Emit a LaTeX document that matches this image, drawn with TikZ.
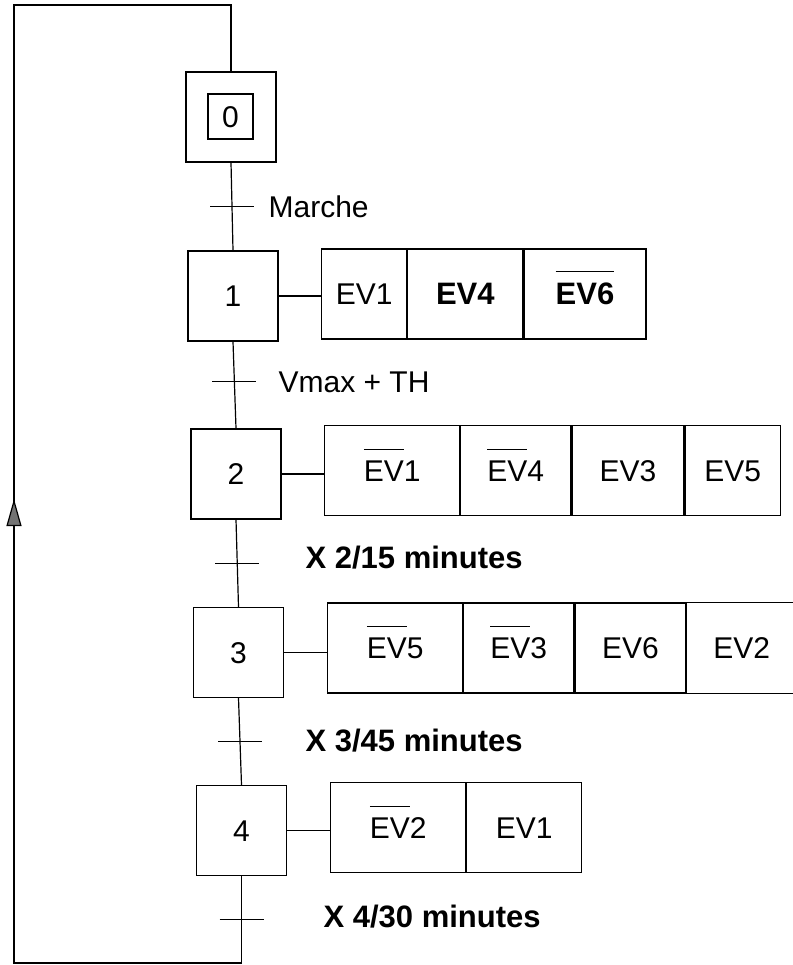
\documentclass[tikz,border=0pt]{standalone}
\usepackage{fontspec}
\setmainfont{Liberation Sans}
\usetikzlibrary{arrows.meta,calc}
\newsavebox\ovlbox
\newcommand\ovl[1]{\sbox\ovlbox{#1}\rlap{\rule[1.05em]{\wd\ovlbox}{1.1pt}}\usebox\ovlbox\relax}
\begin{document}
\begin{tikzpicture}[x=1pt,y=-1pt,line width=1.2pt,
  every node/.style={font=\fontsize{30}{36}\selectfont},
  stepbox/.style={draw,minimum width=90pt,minimum height=90pt,inner sep=0pt,text height=21.5pt,text depth=0pt},
  cell/.style={draw,minimum height=90pt,inner sep=0pt,text height=21.5pt,text depth=0pt,anchor=west},
  bcell/.style={cell,font=\fontsize{31}{36}\selectfont\bfseries},
  lbl/.style={anchor=west,inner sep=0pt},
  blbl/.style={lbl,font=\fontsize{31}{36}\selectfont\bfseries}]
\useasboundingbox (0,0) rectangle (792,965);
% steps
\node[stepbox] (S0) at (231,117) {};
\node[draw,minimum width=45pt,minimum height=45pt,inner sep=0pt,text height=21.5pt,text depth=0pt] (S0i) at (230.5,116.5) {0};
\node[stepbox] (S1) at (233,296) {1};
\node[stepbox] (S2) at (236,474) {2};
\node[stepbox] (S3) at (238.5,652.5) {3};
\node[stepbox] (S4) at (241.5,830.5) {4};
% actions step 1
\node[cell,minimum width=85pt] (A1a) at (321,294) {EV1};
\node[bcell,minimum width=115pt] (A1b) at (A1a.east) {EV4};
\node[bcell,minimum width=122pt] (A1c) at (A1b.east) {\ovl{EV6}};
% actions step 2
\node[cell,minimum width=135pt] (A2a) at (324,470.5) {\ovl{EV}1};
\node[cell,minimum width=110pt] (A2b) at (A2a.east) {\ovl{EV}4};
\node[cell,minimum width=112pt] (A2c) at (A2b.east) {EV3};
\node[cell,minimum width=95pt] (A2d) at (A2c.east) {EV5};
% actions step 3
\node[cell,minimum width=135pt] (A3a) at (327,648) {\ovl{EV}5};
\node[cell,minimum width=110pt] (A3b) at (A3a.east) {\ovl{EV}3};
\node[cell,minimum width=111pt] (A3c) at (A3b.east) {EV6};
\node[cell,draw=none,minimum width=109pt] (A3d) at (A3c.east) {EV2};
\draw (A3d.north east) -- (A3d.north west) -- (A3d.south west) -- (A3d.south east);
% actions step 4
\node[cell,minimum width=135pt] (A4a) at (330,827.5) {\ovl{EV}2};
\node[cell,minimum width=115pt] (A4b) at (A4a.east) {EV1};
% action connectors
\draw (S1.east) -- (S1.east -| A1a.west);
\draw (S2.east) -- (S2.east -| A2a.west);
\draw (S3.east) -- (S3.east -| A3a.west);
\draw (S4.east) -- (S4.east -| A4a.west);
% links
\draw (S0.south) -- (S1.north);
\draw (S1.south) -- (S2.north);
\draw (S2.south) -- (S3.north);
\draw (S3.south) -- (S4.north);
% loop back
\coordinate (bl) at (14,963);
\coordinate (tl) at (14,5);
\draw (S4.south) -- (S4.south |- bl) -- (bl) -- (tl) -- (tl -| S0.north) -- (S0.north);
\coordinate (ab) at (14,532);
\coordinate (at) at (14,499);
\draw[-{Triangle[length=27pt,width=15pt,fill=black!55]}] (ab) -- (at);
% transitions
\coordinate (T0) at ($(S0.south)!0.5!(S1.north)$);
\coordinate (T1) at ($(S1.south)!0.46!(S2.north)$);
\coordinate (T2) at ($(S2.south)!0.5!(S3.north)$);
\coordinate (T3) at ($(S3.south)!0.5!(S4.north)$);
\coordinate (T4) at ($(S4.south)!0.5!(S4.south |- bl)$);
\foreach \t in {T0,T1,T2,T3,T4}{\draw ([xshift=-22pt]\t) -- ([xshift=22pt]\t);}
\node[lbl] (L0) at (268,207) {Marche};
\node[lbl] (L1) at (278,382) {Vmax + TH};
\node[blbl] (L2) at (305,558) {X 2/15 minutes};
\node[blbl] (L3) at (305,741) {X 3/45 minutes};
\node[blbl] (L4) at (323,917) {X 4/30 minutes};
\end{tikzpicture}
\end{document}
